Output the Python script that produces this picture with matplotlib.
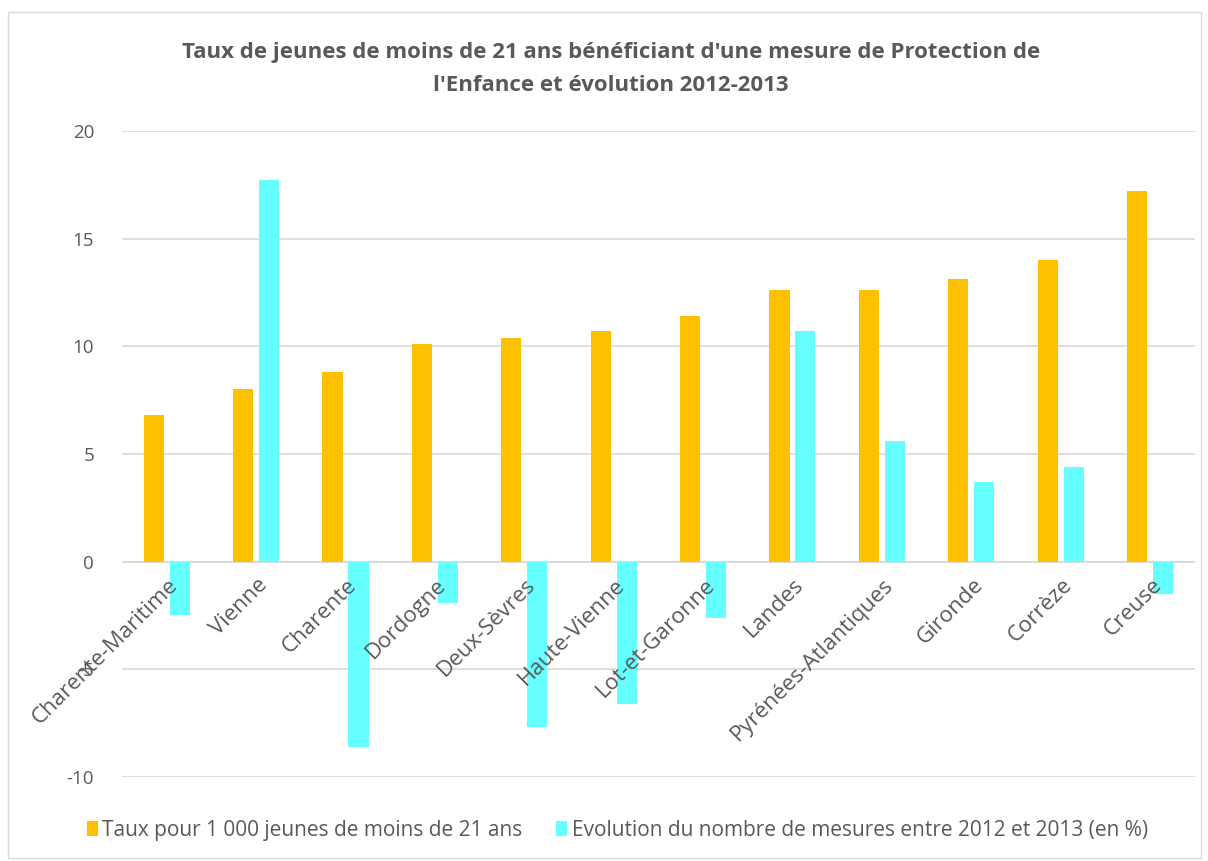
import numpy as np
import matplotlib.pyplot as plt
from matplotlib.patches import Rectangle

departements = ["Charente-Maritime", "Vienne", "Charente", "Dordogne", "Deux-Sèvres",
                "Haute-Vienne", "Lot-et-Garonne", "Landes", "Pyrénées-Atlantiques",
                "Gironde", "Corrèze", "Creuse"]
taux = [6.8, 8.0, 8.8, 10.1, 10.4, 10.7, 11.4, 12.6, 12.6, 13.1, 14.0, 17.2]
evolution = [-2.5, 17.7, -8.6, -1.9, -7.7, -6.6, -2.6, 10.7, 5.6, 3.7, 4.4, -1.5]
yticks = [-10, -5, 0, 5, 10, 15, 20]

plt.rcParams["font.family"] = ["Open Sans", "DejaVu Sans"]
text_color = "#595959"

fig = plt.figure(figsize=(12.08, 8.61), dpi=100)
ax = fig.add_axes([0.101, 0.0976, 0.888, 0.7504])

# outer chart frame
fig.patches.append(Rectangle((0.007, 0.003), 0.987, 0.983, transform=fig.transFigure,
                             fill=False, edgecolor="#D9D9D9", linewidth=1))

x = np.arange(len(departements))
width = 0.225
gap = 0.065
ax.bar(x - (width + gap) / 2, taux, width, color="#FFC000", zorder=2,
       label="Taux pour 1 000 jeunes de moins de 21 ans")
ax.bar(x + (width + gap) / 2, evolution, width, color="#66FFFF", zorder=2,
       label="Evolution du nombre de mesures entre 2012 et 2013 (en %)")

ax.set_xlim(-0.5, len(departements) - 0.5)
ax.set_ylim(-10, 20)
ax.set_axisbelow(True)
ax.set_yticks(yticks)
ax.set_yticklabels([str(v) for v in yticks], fontsize=13.5, color=text_color)
ax.yaxis.grid(True, color="#D9D9D9", linewidth=1.2)
ax.tick_params(axis="y", length=0, pad=20)

for side in ["left", "right", "top", "bottom"]:
    ax.spines[side].set_visible(False)
ax.axhline(0, color="#D9D9D9", linewidth=1.2, zorder=1)

# category labels hang from the zero line, drawn over the bars
ax.set_xticks([])
for i, name in enumerate(departements):
    ax.annotate(name, xy=(i, 0), xytext=(1, -13), textcoords="offset pixels",
                rotation=45, ha="right", va="top", rotation_mode="anchor",
                fontsize=16, color=text_color, zorder=5)

fig.text(0.506, 0.920, "Taux de jeunes de moins de 21 ans bénéficiant d'une mesure de Protection de\n"
         "l'Enfance et évolution 2012-2013", ha="center", va="center", fontsize=16,
         fontweight="bold", color=text_color, linespacing=1.75)

fig.legend(loc="center", bbox_to_anchor=(0.511, 0.036), ncol=2, frameon=False,
           fontsize=15, handlelength=0.55, handleheight=0.75, handletextpad=0.2,
           columnspacing=1.6, labelcolor=text_color)

fig.savefig("out.png", dpi=100)
